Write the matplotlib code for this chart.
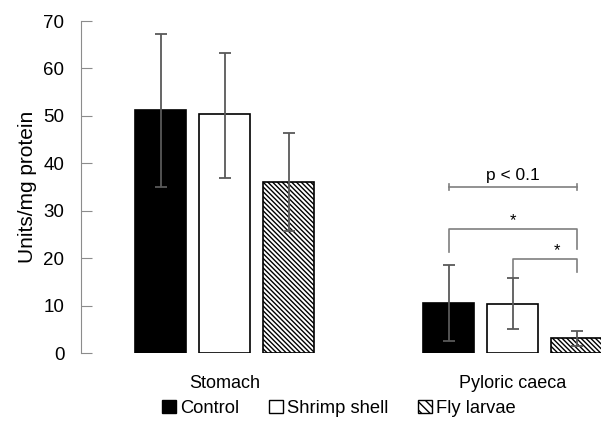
import numpy as np
import matplotlib
matplotlib.use("Agg")
import matplotlib.pyplot as plt
from matplotlib.patches import Patch

plt.rcParams["font.family"] = ["Liberation Sans", "DejaVu Sans"]
plt.rcParams["hatch.linewidth"] = 1.0

# ============================================================
# Data
# ============================================================

tissues = ["Stomach", "Pyloric caeca"]
diets = ["Control", "Shrimp shell", "Fly larvae"]

control_mean = [51.3, 10.5]
shrimp_mean = [50.3, 10.4]
fly_mean = [36.0, 3.2]

control_low = [35.0, 2.5]
control_high = [67.3, 18.5]
shrimp_low = [37.0, 5.0]
shrimp_high = [63.3, 15.8]
fly_low = [25.8, 1.5]
fly_high = [46.5, 4.7]

# ============================================================
# Plot
# ============================================================

fig = plt.figure(figsize=(6.01, 4.30), dpi=100)
ax = fig.add_axes([0.135, 0.179, 0.865, 0.772])

group_x = np.array([0.0, 4.5])
width = 0.8
err_color = "#595959"

series = [
    (control_mean, control_low, control_high, dict(color="black", edgecolor="black")),
    (shrimp_mean, shrimp_low, shrimp_high, dict(color="white", edgecolor="black")),
    (fly_mean, fly_low, fly_high, dict(color="white", edgecolor="black", hatch="\\" * 7)),
]

for i, (mean, low, high, style) in enumerate(series):
    x = group_x + (i - 1)
    mean = np.array(mean)
    yerr = [mean - np.array(low), np.array(high) - mean]
    ax.bar(x, mean, width=width, linewidth=1.2, zorder=2, **style)
    ax.errorbar(x, mean, yerr=yerr, fmt="none", ecolor=err_color,
                elinewidth=1.3, capsize=4, capthick=1.3, zorder=3)

# significance brackets (pyloric caeca)
xc, xs, xf = group_x[1] - 1, group_x[1], group_x[1] + 1
br = "#7f7f7f"
ax.plot([xc, xf], [35.0, 35.0], color=br, lw=1.2, zorder=3)
ax.plot([xc, xc], [34.3, 35.7], color=br, lw=1.2)
ax.plot([xf, xf], [34.3, 35.7], color=br, lw=1.2)
ax.text((xc + xf) / 2, 35.8, "p < 0.1", ha="center", va="bottom", fontsize=12.5)

ax.plot([xc, xc, xf, xf], [21.3, 26.2, 26.2, 22.0], color=br, lw=1.2)
ax.text((xc + xf) / 2, 26.4, "*", ha="center", va="bottom", fontsize=12)

ax.plot([xs, xs, xf, xf], [16.0, 19.8, 19.8, 17.1], color=br, lw=1.2)
ax.text((xs + xf) / 2 + 0.2, 20.0, "*", ha="center", va="bottom", fontsize=12)

ax.set_xlim(-2.24, 5.88)
ax.set_ylim(0, 70)
ax.set_yticks(range(0, 71, 10))
ax.tick_params(axis="y", direction="in", length=8, color="#8c8c8c",
               labelsize=13.5, pad=12)
ax.set_xticks(group_x)
ax.set_xticklabels(tissues, fontsize=13)
ax.tick_params(axis="x", length=0, pad=16)

for side in ["top", "right", "bottom"]:
    ax.spines[side].set_visible(False)
ax.spines["left"].set_color("#8c8c8c")

ax.set_ylabel("Units/mg protein", fontsize=15, labelpad=5)

handles = [
    Patch(facecolor="black", edgecolor="black", label=diets[0]),
    Patch(facecolor="white", edgecolor="black", label=diets[1]),
    Patch(facecolor="white", edgecolor="black", hatch="\\\\\\\\", label=diets[2]),
]
fig.legend(handles=handles, loc="center", bbox_to_anchor=(0.564, 0.051),
           ncol=3, frameon=False, fontsize=13.2, handlelength=0.75,
           handleheight=0.75, handletextpad=0.25, columnspacing=1.6)

plt.savefig("out.png", dpi=100)
